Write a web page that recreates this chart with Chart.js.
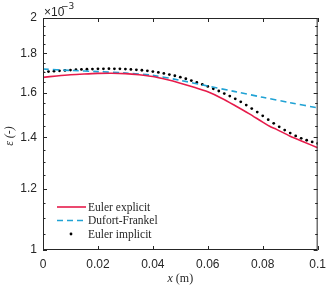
<!DOCTYPE html>
<html>
<head>
<meta charset="utf-8">
<script src="https://cdn.jsdelivr.net/npm/chart.js@4.4.1/dist/chart.umd.min.js"></script>
<style>
  html, body { margin: 0; padding: 0; background: #fff; }
  #wrap { width: 333px; height: 288px; }
</style>
</head>
<body>
<div id="wrap"><canvas id="c" width="333" height="288"></canvas></div>
<script>
// values in units of 1e-3
const xExplicit = [0, 0.005, 0.01, 0.015, 0.02, 0.025, 0.03, 0.035, 0.04, 0.045, 0.05, 0.055, 0.06, 0.065, 0.07, 0.075, 0.08, 0.083, 0.085, 0.09, 0.095, 0.1];
const eulerExplicit = [1.675, 1.682, 1.688, 1.692, 1.695, 1.696, 1.694, 1.688, 1.679, 1.664, 1.646, 1.626, 1.604, 1.574, 1.539, 1.503, 1.465, 1.444, 1.434, 1.405, 1.381, 1.357];

const xDufort = [0, 0.01, 0.02, 0.03, 0.04, 0.05, 0.06, 0.07, 0.08, 0.09, 0.1];
const dufortFrankel = [1.717, 1.710, 1.704, 1.697, 1.685, 1.660, 1.632, 1.605, 1.578, 1.553, 1.529];

const xImplicit = [0, 0.002, 0.004, 0.006, 0.008, 0.01, 0.012, 0.014, 0.016, 0.018,
                   0.02, 0.022, 0.024, 0.026, 0.028, 0.03, 0.032, 0.034, 0.036, 0.038,
                   0.04, 0.042, 0.044, 0.046, 0.048, 0.05, 0.052, 0.054, 0.056, 0.058,
                   0.06, 0.062, 0.064, 0.066, 0.068, 0.07, 0.072, 0.074, 0.076, 0.078,
                   0.08, 0.082, 0.084, 0.086, 0.088, 0.09, 0.092, 0.094, 0.096, 0.098, 0.1];
const eulerImplicit = [1.702, 1.704, 1.706, 1.708, 1.710, 1.712, 1.714, 1.715, 1.716, 1.717,
                       1.718, 1.718, 1.719, 1.718, 1.718, 1.717, 1.715, 1.713, 1.711, 1.708,
                       1.704, 1.700, 1.695, 1.689, 1.683, 1.676, 1.668, 1.659, 1.650, 1.640,
                       1.630, 1.619, 1.608, 1.596, 1.584, 1.571, 1.557, 1.542, 1.526, 1.510,
                       1.493, 1.476, 1.460, 1.445, 1.431, 1.418, 1.406, 1.396, 1.388, 1.381, 1.375];

const xTicks = [0, 0.02, 0.04, 0.06, 0.08, 0.1];
const xTickLabels = ['0', '0.02', '0.04', '0.06', '0.08', '0.1'];
const yTicks = [1, 1.05, 1.1, 1.15, 1.2, 1.25, 1.3, 1.35, 1.4, 1.45, 1.5, 1.55, 1.6, 1.65, 1.7, 1.75, 1.8, 1.85, 1.9, 1.95, 2];
const yTickLabels = ['1', '', '', '', '1.2', '', '', '', '1.4', '', '', '', '1.6', '', '', '', '1.8', '', '', '', '2'];

const seriesNames = ['Euler explicit', 'Dufort-Frankel', 'Euler implicit'];

const RED = 'rgb(230, 28, 75)';
const BLUE = 'rgb(32, 162, 212)';
const AXIS = '#262626';

function pts(xs, ys) { return xs.map((x, i) => ({ x: x, y: ys[i] })); }

const frame = {
  id: 'frame',
  afterDraw(chart) {
    const ctx = chart.ctx;
    const a = chart.chartArea;
    const xs = chart.scales.x, ys = chart.scales.y;
    ctx.save();
    ctx.strokeStyle = AXIS;
    ctx.lineWidth = 1;
    ctx.strokeRect(a.left + 0.5, a.top + 0.5, a.right - a.left - 1, a.bottom - a.top - 1);
    ctx.beginPath();
    xTicks.forEach(v => {
      const p = Math.round(xs.getPixelForValue(v)) + 0.5;
      ctx.moveTo(p, a.bottom); ctx.lineTo(p, a.bottom - 4);
      ctx.moveTo(p, a.top); ctx.lineTo(p, a.top + 4);
    });
    yTicks.forEach((v, i) => {
      const p = Math.round(ys.getPixelForValue(v)) + 0.5;
      const len = yTickLabels[i] ? 4 : 2.5;
      ctx.moveTo(a.left, p); ctx.lineTo(a.left + len, p);
      ctx.moveTo(a.right, p); ctx.lineTo(a.right - len, p);
    });
    ctx.stroke();

    // exponent label
    ctx.fillStyle = AXIS;
    ctx.textBaseline = 'alphabetic';
    ctx.textAlign = 'left';
    ctx.font = '12px "Liberation Sans", Arial, sans-serif';
    ctx.fillText('\u00d710', 44, 16);
    ctx.font = '9px "DejaVu Sans", sans-serif';
    ctx.fillText('\u22123', 61, 9);

    // axis titles
    const xt = 'x', rest = ' (m)';
    ctx.font = 'italic 12px "Liberation Serif", serif';
    const w1 = ctx.measureText(xt).width;
    ctx.font = '12px "Liberation Serif", serif';
    const w2 = ctx.measureText(rest).width;
    let x0 = (a.left + a.right) / 2 - (w1 + w2) / 2;
    ctx.textBaseline = 'middle';
    ctx.font = 'italic 12px "Liberation Serif", serif';
    ctx.fillText(xt, x0, 279);
    ctx.font = '12px "Liberation Serif", serif';
    ctx.fillText(rest, x0 + w1, 279);

    ctx.save();
    ctx.translate(10, 136);
    ctx.rotate(-Math.PI / 2);
    ctx.textAlign = 'center';
    ctx.font = 'italic 12px "Liberation Serif", serif';
    ctx.fillText('\u03b5 (-)', 0, 0);
    ctx.restore();

    // legend
    const rows = [207, 220.5, 234];
    ctx.font = '11.5px "Liberation Serif", serif';
    ctx.textAlign = 'left';
    ctx.textBaseline = 'middle';
    chart.data.datasets.forEach((ds, i) => {
      const y = rows[i];
      if (ds.showLine === false) {
        ctx.beginPath();
        ctx.fillStyle = ds.pointBackgroundColor;
        ctx.arc(71, y, ds.pointRadius, 0, Math.PI * 2);
        ctx.fill();
      } else {
        ctx.beginPath();
        ctx.strokeStyle = ds.borderColor;
        ctx.lineWidth = ds.borderWidth;
        ctx.setLineDash(ds.borderDash || []);
        ctx.moveTo(57, y); ctx.lineTo(86, y);
        ctx.stroke();
        ctx.setLineDash([]);
      }
      ctx.fillStyle = AXIS;
      ctx.fillText(seriesNames[i], 88, y + 0.5);
    });
    ctx.restore();
  }
};

new Chart(document.getElementById('c'), {
  type: 'line',
  data: {
    datasets: [
      {
        label: seriesNames[0],
        data: pts(xExplicit, eulerExplicit),
        borderColor: RED,
        borderWidth: 1.6,
        pointRadius: 0,
        tension: 0.3,
        fill: false
      },
      {
        label: seriesNames[1],
        data: pts(xDufort, dufortFrankel),
        borderColor: BLUE,
        borderWidth: 1.6,
        borderDash: [6, 4],
        pointRadius: 0,
        tension: 0.3,
        fill: false
      },
      {
        label: seriesNames[2],
        data: pts(xImplicit, eulerImplicit),
        showLine: false,
        pointRadius: 1.4,
        pointBackgroundColor: '#000',
        pointBorderWidth: 0,
        borderColor: '#000'
      }
    ]
  },
  options: {
    responsive: false,
    animation: false,
    layout: { padding: { top: 18, right: 11, left: 0, bottom: 0 } },
    plugins: { legend: { display: false }, tooltip: { enabled: false } },
    scales: {
      x: {
        type: 'linear',
        min: 0,
        max: 0.1,
        grid: { display: false, drawTicks: false },
        border: { display: false },
        afterFit: s => { s.height = 38; },
        afterBuildTicks: s => { s.ticks = xTicks.map(v => ({ value: v })); },
        ticks: {
          autoSkip: false,
          maxRotation: 0,
          padding: 7,
          color: AXIS,
          font: { family: '"Liberation Sans", Arial, sans-serif', size: 12 },
          callback: (v, i) => xTickLabels[i]
        }
      },
      y: {
        type: 'logarithmic',
        min: 1,
        max: 2,
        grid: { display: false, drawTicks: false },
        border: { display: false },
        afterFit: s => { s.width = 43; },
        afterBuildTicks: s => { s.ticks = yTicks.map(v => ({ value: v })); },
        ticks: {
          autoSkip: false,
          padding: 6,
          color: AXIS,
          font: { family: '"Liberation Sans", Arial, sans-serif', size: 12 },
          callback: (v, i) => yTickLabels[i]
        }
      }
    }
  },
  plugins: [frame]
});
</script>
</body>
</html>
